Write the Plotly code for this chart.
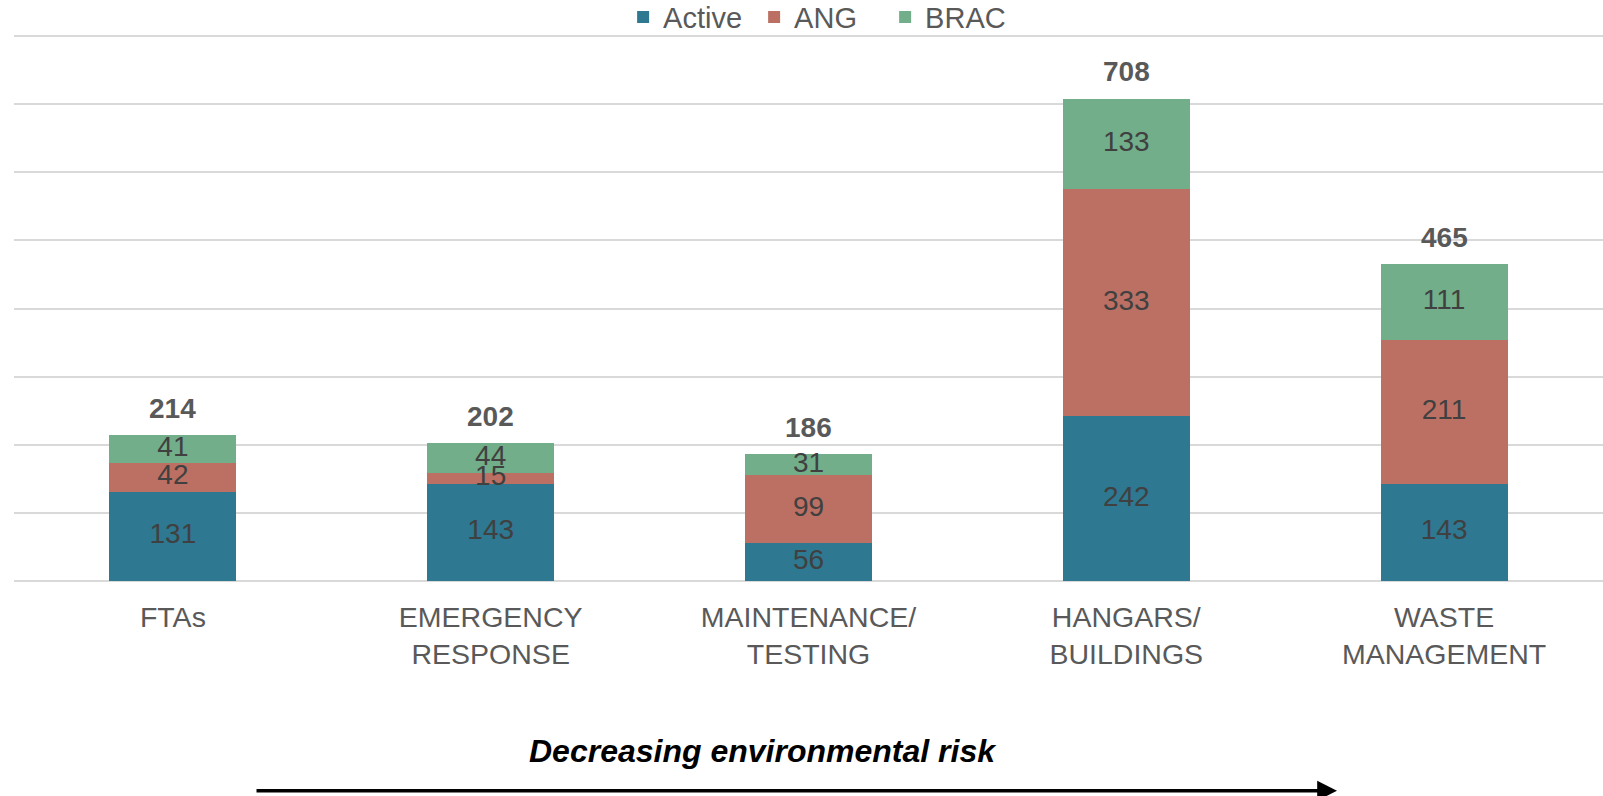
import plotly.graph_objects as go

categories = ["FTAs", "EMERGENCY<br>RESPONSE", "MAINTENANCE/<br>TESTING", "HANGARS/<br>BUILDINGS", "WASTE<br>MANAGEMENT"]
active = [131, 143, 56, 242, 143]
ang = [42, 15, 99, 333, 211]
brac = [41, 44, 31, 133, 111]
totals = [214, 202, 186, 708, 465]

series_names = ["Active", "ANG", "BRAC"]
series_colors = ["#2E7891", "#BC7064", "#72AE8A"]
series_values = [active, ang, brac]

FONT = "Liberation Sans, Arial, sans-serif"

fig = go.Figure()
base = [0] * len(categories)
for name, color, vals in zip(series_names, series_colors, series_values):
    fig.add_trace(go.Bar(
        name=name, x=categories, y=vals, marker=dict(color=color, line=dict(width=0)),
        hoverinfo="skip",
    ))
    mids = [b + v / 2 for b, v in zip(base, vals)]
    fig.add_trace(go.Scatter(
        x=categories, y=mids, mode="text", text=[str(v) for v in vals],
        textposition="middle center", showlegend=False, hoverinfo="skip",
        textfont=dict(family=FONT, size=28, color="#404040"),
    ))
    base = [b + v for b, v in zip(base, vals)]

for c, t in zip(categories, totals):
    fig.add_annotation(x=c, y=t, xref="x", yref="y", text="<b>%d</b>" % t, showarrow=False,
                       yanchor="middle", yshift=27,
                       font=dict(family=FONT, size=28, color="#595959"))

fig.add_annotation(x=0.4714, y=-0.310, xref="paper", yref="paper",
                   text="<b><i>Decreasing environmental risk</i></b>", showarrow=False,
                   xanchor="center", yanchor="middle",
                   font=dict(family=FONT, size=32, color="#000000"))
fig.add_annotation(x=0.8326, y=-0.3835, xref="paper", yref="paper", text="",
                   showarrow=True, ax=-1082, ay=0, axref="pixel", ayref="pixel",
                   arrowhead=2, arrowsize=1.2, arrowwidth=3.3, arrowcolor="#000000")

fig.update_layout(
    barmode="stack", bargap=0.6,
    width=1603, height=796,
    margin=dict(l=14, r=0, t=34, b=215, autoexpand=False),
    plot_bgcolor="white", paper_bgcolor="white",
    legend=dict(orientation="h", x=0.507, xanchor="center", y=1.031, yanchor="middle",
                font=dict(family=FONT, size=29, color="#595959"), traceorder="normal",
                itemsizing="constant", bgcolor="rgba(0,0,0,0)", itemwidth=30,
                entrywidth=86, entrywidthmode="pixels"),
    showlegend=True,
    font=dict(family=FONT),
)
fig.update_xaxes(range=[-0.5, 4.5], showgrid=False, showline=False, ticks="",
                 ticklabelstandoff=16,
                 tickfont=dict(family=FONT, size=28.5, color="#595959"))
fig.update_yaxes(range=[0, 803], dtick=100, showgrid=True, gridcolor="#D9D9D9", gridwidth=1.5,
                 showticklabels=False, zeroline=True, zerolinecolor="#D9D9D9", zerolinewidth=1.5,
                 showline=False, ticks="")

fig.write_html("out.html", config={"displayModeBar": False},
               post_script="document.body.style.margin='0px';document.body.style.overflow='hidden';")
